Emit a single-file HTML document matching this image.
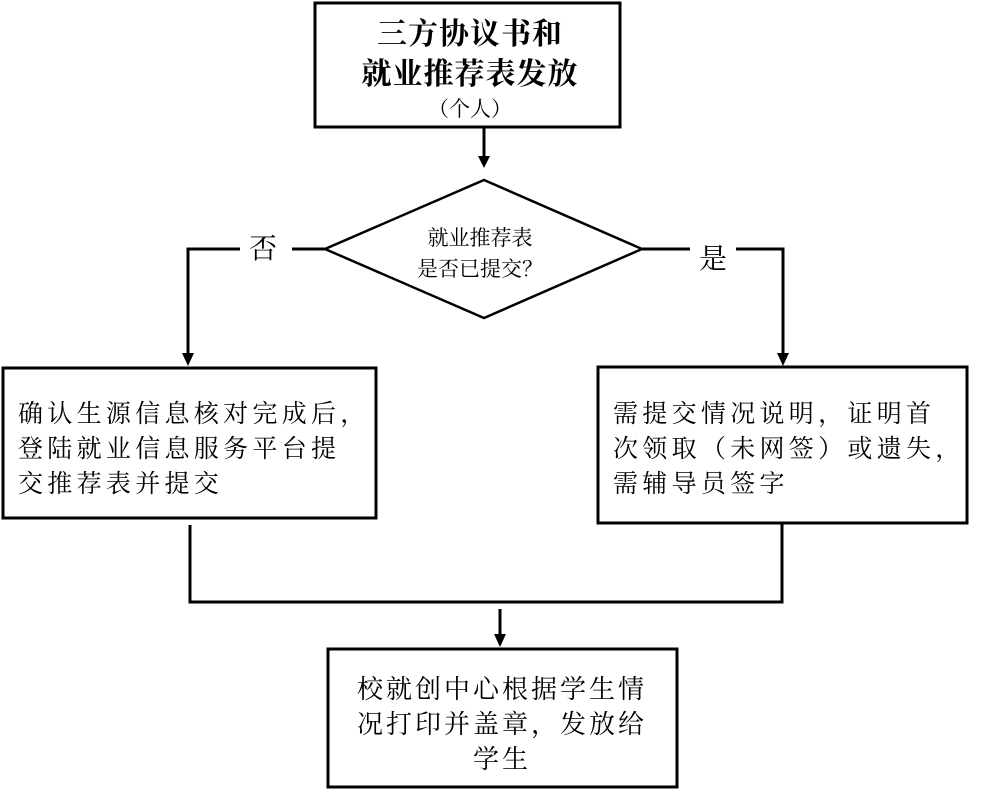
<!DOCTYPE html>
<html><head><meta charset="utf-8"><style>
html,body{margin:0;padding:0;background:#fff;}
svg{display:block;}
text{font-family:"Liberation Serif","Noto Serif CJK SC",serif;fill:#000;}
</style></head><body>
<svg width="999" height="790" viewBox="0 0 999 790" xmlns="http://www.w3.org/2000/svg">
<g fill="none" stroke="#000" stroke-width="3">
<rect x="315" y="3" width="305" height="124"/>
<rect x="3" y="368" width="373" height="150"/>
<rect x="598" y="367" width="369" height="156"/>
<rect x="328" y="649" width="349" height="138"/>
<polygon points="484,180 642,249 484,318 325,249" stroke-width="2.5"/>
<path d="M484,128 V158"/>
<path d="M325,249 H292 M240,249 H188 V355"/>
<path d="M642,249 H690 M736,249 H783 V355"/>
<path d="M190,525 V602 H782 V523"/>
<path d="M500,609 V636"/>
</g>
<polygon points="478,156 490,156 484,168"/>
<polygon points="182,353 194,353 188,366"/>
<polygon points="777,353 789,353 783,366"/>
<polygon points="494,634 506,634 500,647"/>
<text x="470" y="44" font-size="30" text-anchor="middle" font-weight="bold" letter-spacing="1">三方协议书和</text>
<text x="470" y="84" font-size="30" text-anchor="middle" font-weight="bold" letter-spacing="1">就业推荐表发放</text>
<text x="470" y="116" font-size="21" text-anchor="middle">（个人）</text>
<text x="480" y="245" font-size="21" text-anchor="middle">就业推荐表</text>
<text x="480" y="276" font-size="21" text-anchor="middle">是否已提交？</text>
<text x="263" y="258" font-size="28" text-anchor="middle">否</text>
<text x="713" y="268" font-size="28" text-anchor="middle">是</text>
<g font-size="25" letter-spacing="4.3">
<text x="18" y="422">确认生源信息核对完成后，</text>
<text x="18" y="457">登陆就业信息服务平台提</text>
<text x="18" y="492">交推荐表并提交</text>
<text x="613" y="422">需提交情况说明，证明首</text>
<text x="613" y="457">次领取（未网签）或遗失，</text>
<text x="613" y="492">需辅导员签字</text>
</g>
<g font-size="26" letter-spacing="3" text-anchor="middle">
<text x="502" y="698">校就创中心根据学生情</text>
<text x="502" y="733">况打印并盖章，发放给</text>
<text x="502" y="768">学生</text>
</g>
</svg>
</body></html>
